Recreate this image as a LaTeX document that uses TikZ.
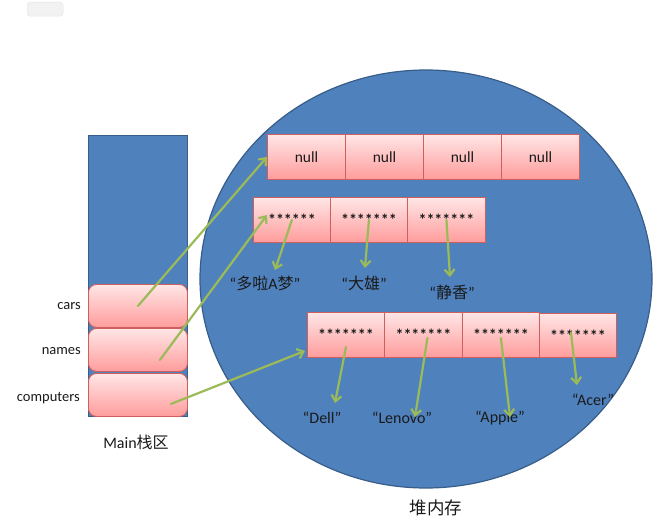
\documentclass[tikz,border=0pt]{standalone}
\usepackage{fontspec}
\setmainfont{Carlito}
\newfontfamily\cjk{Noto Sans CJK SC}
\usetikzlibrary{shapes.geometric,arrows.meta,calc}
\definecolor{heapblue}{HTML}{4F81BD}
\definecolor{heapedge}{HTML}{385D8A}
\definecolor{pinktop}{HTML}{FFE6E6}
\definecolor{pinkbot}{HTML}{FF9C9C}
\definecolor{pinkedge}{HTML}{CF5F5C}
\definecolor{arrgreen}{HTML}{9BBB59}
\definecolor{inkdark}{HTML}{1A1A1A}
\begin{document}
\begin{tikzpicture}[x=1pt,y=-1pt,
  cellbox/.style={draw=pinkedge, line width=0.9pt, top color=pinktop, bottom color=pinkbot,
    minimum height=45pt, inner sep=0pt, anchor=north west, text=inkdark,
    font=\fontsize{15.5}{15.5}\selectfont},
  starbox/.style={cellbox, font=\fontsize{16}{16}\selectfont\bfseries},
  slotbox/.style={cellbox, rounded corners=8pt, minimum width=99pt, minimum height=43pt},
  lab/.style={text=inkdark, inner sep=1pt, font=\fontsize{16}{16}\selectfont},
  varlab/.style={text=inkdark, inner sep=1pt, anchor=east, font=\fontsize{14.5}{14.5}\selectfont},
  arr/.style={draw=arrgreen, line width=2.2pt, line cap=round,
    -{Straight Barb[length=6pt,width=10pt,line width=2.2pt]}}]
\useasboundingbox (0,0) rectangle (654,524);
% top small tab
\node[draw=gray!22, fill=gray!10, rounded corners=3pt, minimum width=36pt, minimum height=14pt,
  anchor=north west, inner sep=0pt] (tab) at (27,2) {};
% heap ellipse
\node[ellipse, draw=heapedge, line width=1.2pt, fill=heapblue, minimum width=452pt,
  minimum height=418pt, inner sep=0pt] (heap) at (426,279) {};
\node[lab, font=\fontsize{17.5}{17.5}\selectfont\cjk] (heaplab) at (436,508) {堆内存};
% stack
\node[draw=heapedge, line width=1pt, fill=heapblue, minimum width=99pt, minimum height=281pt,
  anchor=north west, inner sep=0pt] (stack) at (88,135) {};
\node[slotbox] (cars) at (88,284) {};
\node[slotbox] (names) at (88,328) {};
\node[slotbox] (comps) at (88,373) {};
\node[varlab] (carslab) at (82,306) {cars};
\node[varlab] (nameslab) at (82,351) {names};
\node[varlab] (compslab) at (81,398) {computers};
\node[lab] (mainlab) at (136,442) {Main{\cjk 栈区}};
% null array
\node[cellbox, minimum width=78pt] (n1) at (267,134) {null};
\node[cellbox, minimum width=78pt] (n2) at (345,134) {null};
\node[cellbox, minimum width=78pt] (n3) at (423,134) {null};
\node[cellbox, minimum width=78pt] (n4) at (501,134) {null};
% names array
\node[starbox, minimum width=77pt] (b1) at (253,197) {******};
\node[starbox, minimum width=77pt] (b2) at (330,197) {*******};
\node[starbox, minimum width=78pt] (b3) at (407,197) {*******};
% computers array
\node[starbox, minimum width=77pt] (c1) at (307,312) {*******};
\node[starbox, minimum width=78pt] (c2) at (384,312) {*******};
\node[starbox, minimum width=77pt] (c3) at (462,312) {*******};
\node[starbox, minimum width=77pt, minimum height=44pt] (c4) at (539,313) {*******};
% value labels
\node[lab] (l1) at (265,283) {“{\cjk 多啦}A{\cjk 梦}”};
\node[lab] (l2) at (364,283) {“{\cjk 大雄}”};
\node[lab] (l3) at (452,292) {“{\cjk 静香}”};
\node[lab] (l4) at (322,418) {“Dell”};
\node[lab] (l5) at (402,418) {“Lenovo”};
\node[lab] (l6) at (500,418) {“Apple”};
\node[lab] (l7) at (593,400) {“Acer”};
% connectors
\draw[arr] (cars.center) -- (n1.west);
\draw[arr] ($(names.center)+(22,10)$) -- ($(b1.west)+(14,-5)$);
\draw[arr] ($(comps.center)+(33,9)$) -- ($(c1.south west)+(-2,-7)$);
\draw[arr] (b1.center) -- ($(l1.center)+(10,-13)$);
\draw[arr] (b2.center) -- ($(l2.center)+(1,-15)$);
\draw[arr] (b3.center) -- ($(l3.center)+(-2,-15)$);
\draw[arr] ($(c1.center)+(0,12)$) -- ($(l4.center)+(13,-15)$);
\draw[arr] ($(c2.center)+(4,3)$) -- ($(l5.center)+(13,-1)$);
\draw[arr] ($(c3.center)+(0,3)$) -- ($(l6.center)+(10,-1)$);
\draw[arr] ($(c4.center)+(-7,-3)$) -- ($(l7.center)+(-16,-15)$);
\end{tikzpicture}
\end{document}
